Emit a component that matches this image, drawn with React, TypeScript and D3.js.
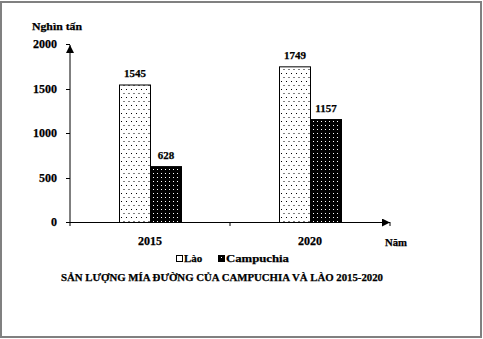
import React from "react";
import * as d3 from "d3";

const categories = ["2015", "2020"];
const seriesNames = ["Lào", "Campuchia"];
const laoValues = [1545, 1749];
const campuchiaValues = [628, 1157];
const yTicks = [0, 500, 1000, 1500, 2000];
const title = "SẢN LƯỢNG MÍA ĐƯỜNG CỦA CAMPUCHIA VÀ LÀO 2015-2020";
const yUnit = "Nghìn tấn";
const xUnit = "Năm";

const W = 483;
const H = 339;
const FONT = "'Liberation Serif', 'DejaVu Serif', serif";

const T = (props: any) => (
  <text fontFamily={FONT} fontWeight="bold" stroke="#000" strokeWidth={0.25} fill="#000" {...props} />
);

export default function App() {
  const x0 = 70;
  const x1 = 390;
  const yBase = 222;
  const yTop = 44;
  const x = d3.scaleBand<string>().domain(categories).range([x0, x1]).padding(0);
  const y = d3.scaleLinear().domain([0, 2000]).range([yBase, yTop]);
  const barW = 31;
  const sub = d3.scaleBand<string>().domain(seriesNames).range([0, barW * 2]).padding(0);
  const values = [laoValues, campuchiaValues];
  const fills = ["url(#laoPat)", "url(#camPat)"];

  return (
    <svg width={W} height={H} style={{ position: "absolute", left: 0, top: 0, background: "#fff" }}>
      <defs>
        <pattern id="laoPat" width={5} height={8} patternUnits="userSpaceOnUse">
          <rect width={5} height={8} fill="#fff" />
          <rect x={1} y={1} width={1} height={1} fill="#000" />
          <rect x={3.5} y={5} width={1} height={1} fill="#000" />
        </pattern>
        <pattern id="camPat" width={4} height={4} patternUnits="userSpaceOnUse">
          <rect width={4} height={4} fill="#000" />
          <rect x={1} y={1} width={1} height={1} fill="#fff" />
        </pattern>
        <marker id="arr" viewBox="0 0 10 10" refX={10} refY={5} markerWidth={8} markerHeight={8} orient="auto">
          <path d="M0,0 L10,5 L0,10 z" fill="#000" />
        </marker>
      </defs>
      <rect x={1} y={2} width={480} height={335} fill="#fff" stroke="#808080" strokeWidth={2} />

      {/* y unit */}
      <T x={57} y={30} fontSize={10} textAnchor="middle" textLength={50} lengthAdjust="spacingAndGlyphs">{yUnit}</T>

      {/* y axis */}
      <line x1={x0} y1={yBase} x2={x0} y2={y(2000) + 1} stroke="#000" strokeWidth={1} markerEnd="url(#arr)" />
      {yTicks.map((t) => (
        <g key={t}>
          <line x1={x0 - 4} x2={x0} y1={Math.round(y(t)) + 0.5} y2={Math.round(y(t)) + 0.5} stroke="#000" />
          <T x={x0 - 13} y={y(t) + 4} fontSize={12} textAnchor="end">{t}</T>
        </g>
      ))}

      {/* bars */}
      {categories.map((c, ci) => {
        const cx = (x(c) as number) + x.bandwidth() / 2 - barW;
        return (
          <g key={c}>
            {seriesNames.map((s, si) => {
              const v = values[si][ci];
              const bx = cx + (sub(s) as number);
              return (
                <g key={s}>
                  <rect x={bx + 0.5} y={y(v) + 0.5} width={barW} height={yBase - y(v)} fill={fills[si]} stroke="#000" strokeWidth={1} />
                  <T x={bx + barW / 2 + 0.5} y={y(v) - 7} fontSize={11} textAnchor="middle">{v}</T>
                </g>
              );
            })}
            <T x={(x(c) as number) + x.bandwidth() / 2} y={245} fontSize={12} textAnchor="middle">{c}</T>
          </g>
        );
      })}

      {/* x axis */}
      <line x1={x0} y1={yBase + 0.5} x2={x1} y2={yBase + 0.5} stroke="#000" markerEnd="url(#arr)" />
      {categories.map((c) => (
        <line key={c} x1={(x(c) as number)} x2={(x(c) as number)} y1={yBase} y2={yBase + 4} stroke="#000" />
      ))}
      <line x1={x1} x2={x1} y1={yBase} y2={yBase + 4} stroke="#000" />
      <T x={396} y={246} fontSize={10} textAnchor="middle" textLength={22} lengthAdjust="spacingAndGlyphs">{xUnit}</T>

      {/* legend */}
      <rect x={176.5} y={255.5} width={6} height={6} fill="#fff" stroke="#000" />
      <T x={184} y={262} fontSize={11}>{seriesNames[0]}</T>
      <rect x={218.5} y={255.5} width={6} height={6} fill="url(#camPat)" stroke="#000" />
      <T x={226} y={262} fontSize={11} textLength={63} lengthAdjust="spacingAndGlyphs">{seriesNames[1]}</T>

      {/* title */}
      <T x={222} y={281} fontSize={10} textAnchor="middle" textLength={322} lengthAdjust="spacingAndGlyphs">{title}</T>
    </svg>
  );
}
